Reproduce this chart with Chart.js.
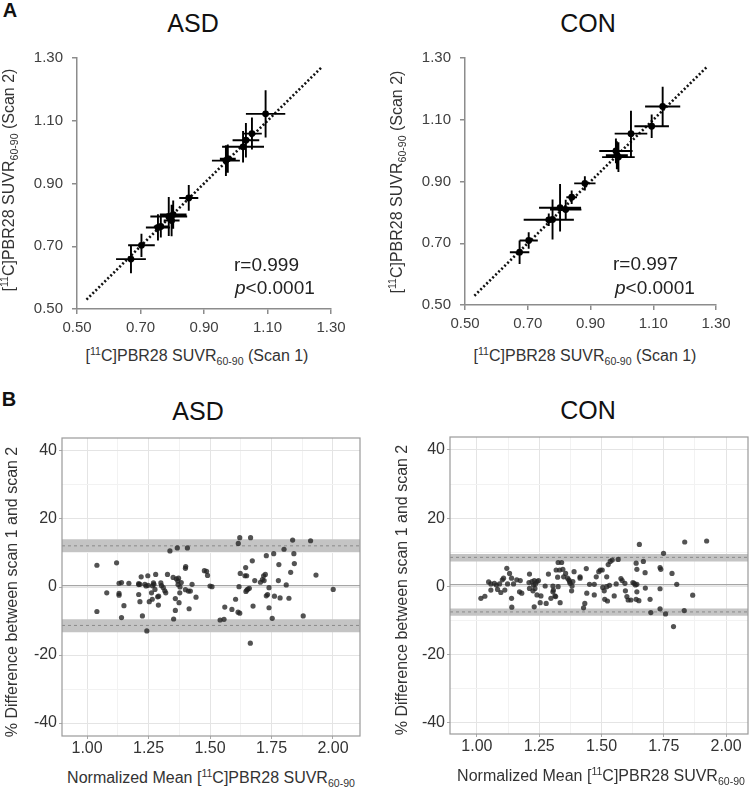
<!DOCTYPE html>
<html>
<head>
<meta charset="utf-8">
<script src="https://cdn.jsdelivr.net/npm/chart.js@4.4.0/dist/chart.umd.min.js"></script>
<style>
html, body { margin: 0; padding: 0; background: #fff; overflow: hidden; }
body { width: 749px; height: 789px; position: relative; font-family: "Liberation Sans", Arial, sans-serif; color: #222; }
canvas { position: absolute; }
.t { position: absolute; white-space: nowrap; transform: translate(-50%, -50%); line-height: 1; }
.l { position: absolute; white-space: nowrap; transform: translate(0, -50%); line-height: 1; font-size: 19px; color: #222; }
.rot { transform: translate(-50%, -50%) rotate(-90deg); }
.ax { font-size: 16px; color: #333; }
.ttl { font-size: 25px; color: #111; }
.pl { font-size: 20px; font-weight: bold; color: #111; }
sup, sub { font-size: 66%; line-height: 0; }
</style>
</head>
<body>
<canvas id="aAsd" width="340" height="300" style="left:17px;top:40px"></canvas>
<canvas id="aCon" width="340" height="300" style="left:405px;top:40px"></canvas>
<canvas id="bAsd" width="370" height="340" style="left:10px;top:425px"></canvas>
<canvas id="bCon" width="370" height="340" style="left:398px;top:425px"></canvas>

<div class="t pl" style="left:10px;top:10px">A</div>
<div class="t pl" style="left:9px;top:399px">B</div>
<div class="t ttl" style="left:193px;top:23px">ASD</div>
<div class="t ttl" style="left:588px;top:23px">CON</div>
<div class="t ttl" style="left:198px;top:411px">ASD</div>
<div class="t ttl" style="left:588px;top:410px">CON</div>

<div class="t ax rot" style="left:9px;top:180px">[<sup>11</sup>C]PBR28 SUVR<sub>60-90</sub> (Scan 2)</div>
<div class="t ax rot" style="left:397px;top:182px">[<sup>11</sup>C]PBR28 SUVR<sub>60-90</sub> (Scan 2)</div>
<div class="t ax" style="left:197px;top:356px">[<sup>11</sup>C]PBR28 SUVR<sub>60-90</sub> (Scan 1)</div>
<div class="t ax" style="left:585px;top:356px">[<sup>11</sup>C]PBR28 SUVR<sub>60-90</sub> (Scan 1)</div>

<div class="l" style="left:234px;top:264px">r=0.999</div>
<div class="l" style="left:235px;top:287px"><i>p</i>&lt;0.0001</div>
<div class="l" style="left:613px;top:263px">r=0.997</div>
<div class="l" style="left:615px;top:287px"><i>p</i>&lt;0.0001</div>

<div class="t ax rot" style="left:12px;top:592px">% Difference between scan 1 and scan 2</div>
<div class="t ax rot" style="left:402px;top:590px">% Difference between scan 1 and scan 2</div>
<div class="t ax" style="left:211px;top:778px">Normalized Mean [<sup>11</sup>C]PBR28 SUVR<sub>60-90</sub></div>
<div class="t ax" style="left:601px;top:776px">Normalized Mean [<sup>11</sup>C]PBR28 SUVR<sub>60-90</sub></div>

<script>
// ---- panel A: scan 1 vs scan 2, mean +/- SD per subject ----
const scanTicks = [0.50, 0.70, 0.90, 1.10, 1.30];
const identityLine = [0.53, 1.27];

const asdScan1 = [0.670, 0.703, 0.755, 0.764, 0.789, 0.798, 0.803, 0.852, 0.969, 0.975, 1.023, 1.032, 1.051, 1.094];
const asdScan2 = [0.659, 0.703, 0.760, 0.763, 0.795, 0.782, 0.801, 0.854, 0.973, 0.979, 1.017, 1.038, 1.059, 1.122];
const asdErr1  = [0.047, 0.042, 0.038, 0.022, 0.058, 0.025, 0.042, 0.030, 0.044, 0.025, 0.066, 0.042, 0.031, 0.062];
const asdErr2  = [0.045, 0.037, 0.042, 0.035, 0.062, 0.050, 0.045, 0.041, 0.049, 0.045, 0.050, 0.055, 0.051, 0.075];

const conScan1 = [0.674, 0.703, 0.767, 0.779, 0.803, 0.821, 0.840, 0.882, 0.981, 0.984, 0.989, 1.029, 1.095, 1.130];
const conScan2 = [0.671, 0.709, 0.776, 0.777, 0.815, 0.809, 0.849, 0.894, 0.999, 0.985, 0.979, 1.055, 1.079, 1.143];
const conErr1  = [0.031, 0.029, 0.080, 0.020, 0.067, 0.050, 0.017, 0.034, 0.053, 0.035, 0.052, 0.052, 0.055, 0.056];
const conErr2  = [0.038, 0.027, 0.020, 0.065, 0.077, 0.032, 0.022, 0.023, 0.040, 0.045, 0.048, 0.074, 0.038, 0.064];

// ---- panel B: Bland-Altman, normalized mean vs % difference ----
const baXTicks = [1.00, 1.125, 1.25, 1.375, 1.50, 1.625, 1.75, 1.875, 2.00];
const baXLabels = [1.00, 1.25, 1.50, 1.75, 2.00];
const baYTicks = [-40, -30, -20, -10, 0, 10, 20, 30, 40];
const baYLabels = [-40, -20, 0, 20, 40];

const asdXRange = [0.898, 2.11];
const asdYRange = [-43.8, 43.8];
const asdBias = 0.4;
const asdLoaUpper = [10.3, 12.1, 14.0];   // CI low, LoA, CI high
const asdLoaLower = [-13.3, -11.3, -9.5];
const asdMean = [1.04, 1.04, 1.08, 1.12, 1.13, 1.13, 1.13, 1.14, 1.14, 1.15, 1.17, 1.21, 1.21, 1.215, 1.21, 1.215,
  1.22, 1.225, 1.235, 1.24, 1.243, 1.247, 1.248, 1.253, 1.262, 1.265, 1.266, 1.27, 1.272, 1.276, 1.279, 1.287,
  1.29, 1.291, 1.30, 1.303, 1.31, 1.316, 1.32, 1.327, 1.337, 1.35, 1.352, 1.359, 1.359, 1.363, 1.367, 1.369,
  1.37, 1.372, 1.374, 1.377, 1.378, 1.383, 1.40, 1.401, 1.40, 1.408, 1.412, 1.415, 1.42, 1.427, 1.443, 1.477,
  1.486, 1.49, 1.50, 1.508, 1.541, 1.557, 1.56, 1.589, 1.604, 1.614, 1.615, 1.618, 1.621, 1.621, 1.623, 1.642,
  1.645, 1.646, 1.649, 1.65, 1.654, 1.66, 1.664, 1.665, 1.672, 1.675, 1.682, 1.705, 1.713, 1.718, 1.72, 1.725,
  1.729, 1.729, 1.734, 1.74, 1.74, 1.753, 1.759, 1.762, 1.778, 1.78, 1.785, 1.801, 1.81, 1.821, 1.828, 1.836,
  1.841, 1.843, 1.879, 1.909, 1.931, 2.001];
const asdDiff = [6.4, -7.2, -1.7, 7.1, -1.9, -2.4, 1.1, 1.3, -9.0, -5.5, 1.1, 1.0, 0.7, 0.8, -2.2, -4.3,
  3.0, -8.5, 0.8, 0.3, -12.9, 3.3, 0.5, -4.3, -1.7, -3.6, 0.4, 1.2, 0.8, -0.7, 3.7, -2.9,
  -5.3, -2.7, 1.2, 0.4, -0.2, -1.1, -1.7, 3.7, 10.6, 2.8, -9.4, -3.4, -6.9, 2.4, 11.5, 1.8,
  0.7, 2.6, -4.6, -1.7, 0.0, 1.3, 5.5, 6.0, -0.8, 11.5, -1.2, -6.4, -1.2, 0.8, -3.0, 4.8,
  4.6, 3.4, 0.3, 0.1, -9.7, -9.5, -5.9, -6.6, -3.6, -7.4, 12.8, 0.1, -7.7, 14.5, 4.0, 3.3,
  5.7, -1.3, 3.3, -0.9, -0.6, -0.4, -16.5, 14.5, 7.7, -5.6, 1.9, 1.4, 2.2, 3.3, 1.9, 3.7,
  9.2, -2.6, -2.2, -0.2, -6.1, -9.2, 9.8, -2.7, 1.9, 6.6, -3.2, 11.1, 0.6, -3.3, 4.3, 13.8,
  9.8, 6.9, -8.5, 13.6, 3.5, -0.7];

const conXRange = [0.892, 2.088];
const conYRange = [-43.3, 43.8];
const conBias = 0.5;
const conLoaUpper = [7.3, 8.5, 9.5];
const conLoaLower = [-8.6, -7.5, -6.5];
const conMean = [1.016, 1.032, 1.047, 1.056, 1.056, 1.070, 1.078, 1.083, 1.091, 1.096, 1.102, 1.107, 1.112, 1.120,
  1.123, 1.131, 1.139, 1.139, 1.140, 1.147, 1.160, 1.174, 1.171, 1.180, 1.211, 1.209, 1.211, 1.221, 1.227, 1.230,
  1.233, 1.235, 1.241, 1.247, 1.225, 1.230, 1.241, 1.254, 1.257, 1.274, 1.278, 1.287, 1.297, 1.305, 1.305, 1.307,
  1.313, 1.316, 1.318, 1.324, 1.326, 1.340, 1.326, 1.334, 1.332, 1.345, 1.348, 1.356, 1.364, 1.369, 1.372, 1.374,
  1.380, 1.382, 1.385, 1.390, 1.414, 1.414, 1.433, 1.428, 1.439, 1.441, 1.452, 1.471, 1.471, 1.479, 1.489, 1.495,
  1.503, 1.505, 1.511, 1.513, 1.521, 1.521, 1.524, 1.527, 1.532, 1.535, 1.543, 1.551, 1.559, 1.567, 1.578, 1.583,
  1.594, 1.596, 1.602, 1.607, 1.618, 1.626, 1.631, 1.636, 1.639, 1.642, 1.642, 1.639, 1.642, 1.650, 1.652, 1.668,
  1.675, 1.676, 1.695, 1.698, 1.735, 1.738, 1.735, 1.735, 1.749, 1.757, 1.783, 1.789, 1.802, 1.832, 1.834, 1.866,
  1.922];
const conDiff = [-3.5, -2.9, 1.3, 0.7, -1.1, 0.9, 0.4, -0.9, 0.7, -1.8, 1.9, 2.4, -1.1, 5.3,
  0.7, 3.8, 2.4, -3.5, -6.1, 0.7, 1.9, 1.7, -1.6, -2.0, 3.6, 1.1, -0.6, 1.4, 0.4, 1.7,
  -0.6, 0.7, 1.4, 1.7, -1.3, -6.0, -2.5, -4.8, -2.8, 0.1, -5.0, 3.6, -3.5, -1.6, 0.1, -1.1,
  -2.8, -3.0, 4.8, 2.7, 7.0, 7.0, -0.1, -4.8, 4.8, 5.0, 2.8, 3.8, 2.4, 1.9, 1.4, 0.9,
  -1.3, 0.1, 1.4, 4.3, 2.8, 2.4, -5.0, -6.3, 5.2, -2.0, 0.6, 0.6, -2.5, 2.8, 4.3, 4.8,
  4.8, -0.3, -1.3, -3.8, 2.8, -0.1, -4.3, 6.4, 0.3, 7.3, 7.7, -2.8, 0.7, 7.9, 2.3, 1.7,
  0.9, -1.3, -3.0, -4.0, -4.0, 1.1, 0.9, 0.4, 6.8, 5.0, 0.6, -3.8, -1.6, -4.2, 12.3, 7.3,
  4.0, -0.5, -3.8, -7.7, 5.5, 5.0, -0.7, -6.6, 9.7, -8.1, 3.8, -11.8, 0.6, -7.1, 13.0, -2.6,
  13.3];

Chart.defaults.font.family = '"Liberation Sans", Arial, sans-serif';
Chart.defaults.animation = false;
Chart.defaults.plugins.legend.display = false;
Chart.defaults.plugins.tooltip.enabled = false;

const axisGrey = '#8c8c8c';

function errorBars(xs, ys, ex, ey) {
    const pts = [];
    xs.forEach((x, i) => {
        pts.push({x: x - ex[i], y: ys[i]}, {x: x + ex[i], y: ys[i]}, {x: null, y: null});
        pts.push({x: x, y: ys[i] - ey[i]}, {x: x, y: ys[i] + ey[i]}, {x: null, y: null});
    });
    return pts;
}

function scanAxis(fit, pad) {
    return {
        min: scanTicks[0],
        max: scanTicks[scanTicks.length - 1],
        afterFit: fit,
        afterBuildTicks: s => { s.ticks = scanTicks.map(v => ({value: v})); },
        grid: {display: true, drawOnChartArea: false, tickLength: 5, color: axisGrey, lineWidth: 1.5},
        border: {display: true, color: axisGrey, width: 1.5},
        ticks: {padding: pad, color: '#404040', font: {size: 15}, callback: v => v.toFixed(2)}
    };
}

function scanChart(id, s1, s2, e1, e2, box) {
    return new Chart(document.getElementById(id), {
        type: 'scatter',
        data: {
            datasets: [{
                data: s1.map((x, i) => ({x: x, y: s2[i]})),
                backgroundColor: '#000',
                borderWidth: 0,
                pointRadius: 3.4,
                order: 0
            },
            {
                type: 'line',
                data: errorBars(s1, s2, e1, e2),
                borderColor: '#000',
                borderWidth: 1.9,
                pointRadius: 0,
                spanGaps: false,
                order: 1
            },
            {
                type: 'line',
                data: identityLine.map(v => ({x: v, y: v})),
                borderColor: '#111',
                borderWidth: 2.6,
                borderDash: [2, 2.2],
                pointRadius: 0,
                order: 2
            }]
        },
        options: {
            responsive: false,
            events: [],
            layout: {padding: {top: box.top, right: box.right, left: 0, bottom: 0}},
            scales: {
                x: scanAxis(s => { s.height = box.xh; }, 5),
                y: scanAxis(s => { s.width = box.yw; }, 9)
            }
        }
    });
}

const panelBorder = {
    id: 'panelBorder',
    afterDraw(chart) {
        const a = chart.chartArea, c = chart.ctx;
        c.save();
        c.strokeStyle = '#9a9a9a';
        c.lineWidth = 1.2;
        c.strokeRect(a.left, a.top, a.right - a.left, a.bottom - a.top);
        c.restore();
    }
};

function flatLine(xr, y) {
    return xr.map(x => ({x: x, y: y}));
}

function baChart(id, mx, dy, xr, yr, bias, up, lo, box) {
    const band = vals => [{
        type: 'line', data: flatLine(xr, vals[2]), borderColor: 'rgba(0,0,0,0)', borderWidth: 0,
        pointRadius: 0, fill: {value: vals[0]}, backgroundColor: '#c4c4c4', order: 4
    }, {
        type: 'line', data: flatLine(xr, vals[1]), borderColor: '#8a8a8a', borderWidth: 1,
        borderDash: [3, 3], pointRadius: 0, order: 2
    }];
    return new Chart(document.getElementById(id), {
        type: 'scatter',
        data: {
            datasets: [{
                data: mx.map((x, i) => ({x: x, y: dy[i]})),
                backgroundColor: 'rgba(35,35,35,0.78)',
                borderWidth: 0,
                pointRadius: 2.6,
                order: 0
            },
            {
                type: 'line', data: flatLine(xr, bias), borderColor: '#a6a6a6', borderWidth: 1.2,
                pointRadius: 0, order: 3
            }].concat(band(up), band(lo))
        },
        options: {
            responsive: false,
            events: [],
            layout: {padding: {top: box.top, right: box.right, left: 0, bottom: 0}},
            scales: {
                x: {
                    min: xr[0], max: xr[1],
                    afterFit: s => { s.height = box.xh; },
                    afterBuildTicks: s => { s.ticks = baXTicks.map(v => ({value: v})); },
                    grid: {
                        color: ctx => baXLabels.includes(ctx.tick.value) ? '#e4e4e4' : '#f2f2f2',
                        tickColor: ctx => baXLabels.includes(ctx.tick.value) ? '#aaa' : 'rgba(0,0,0,0)',
                        tickLength: 3
                    },
                    border: {display: false},
                    ticks: {padding: 0, color: '#333', font: {size: 16},
                        callback: v => baXLabels.includes(v) ? v.toFixed(2) : ''}
                },
                y: {
                    min: yr[0], max: yr[1],
                    afterFit: s => { s.width = box.yw; },
                    afterBuildTicks: s => { s.ticks = baYTicks.map(v => ({value: v})); },
                    grid: {
                        color: ctx => baYLabels.includes(ctx.tick.value) ? '#e4e4e4' : '#f2f2f2',
                        tickColor: ctx => baYLabels.includes(ctx.tick.value) ? '#aaa' : 'rgba(0,0,0,0)',
                        tickLength: 3
                    },
                    border: {display: false},
                    ticks: {padding: 2, color: '#333', font: {size: 16},
                        callback: v => baYLabels.includes(v) ? String(v) : ''}
                }
            }
        },
        plugins: [panelBorder]
    });
}

scanChart('aAsd', asdScan1, asdScan2, asdErr1, asdErr2, {yw: 60, xh: 31, top: 17, right: 26});
scanChart('aCon', conScan1, conScan2, conErr1, conErr2, {yw: 60, xh: 35, top: 17, right: 29});
baChart('bAsd', asdMean, asdDiff, asdXRange, asdYRange, asdBias, asdLoaUpper, asdLoaLower, {yw: 52, xh: 29, top: 13, right: 20});
baChart('bCon', conMean, conDiff, conXRange, conYRange, conBias, conLoaUpper, conLoaLower, {yw: 52, xh: 31, top: 12, right: 20});
</script>
</body>
</html>
